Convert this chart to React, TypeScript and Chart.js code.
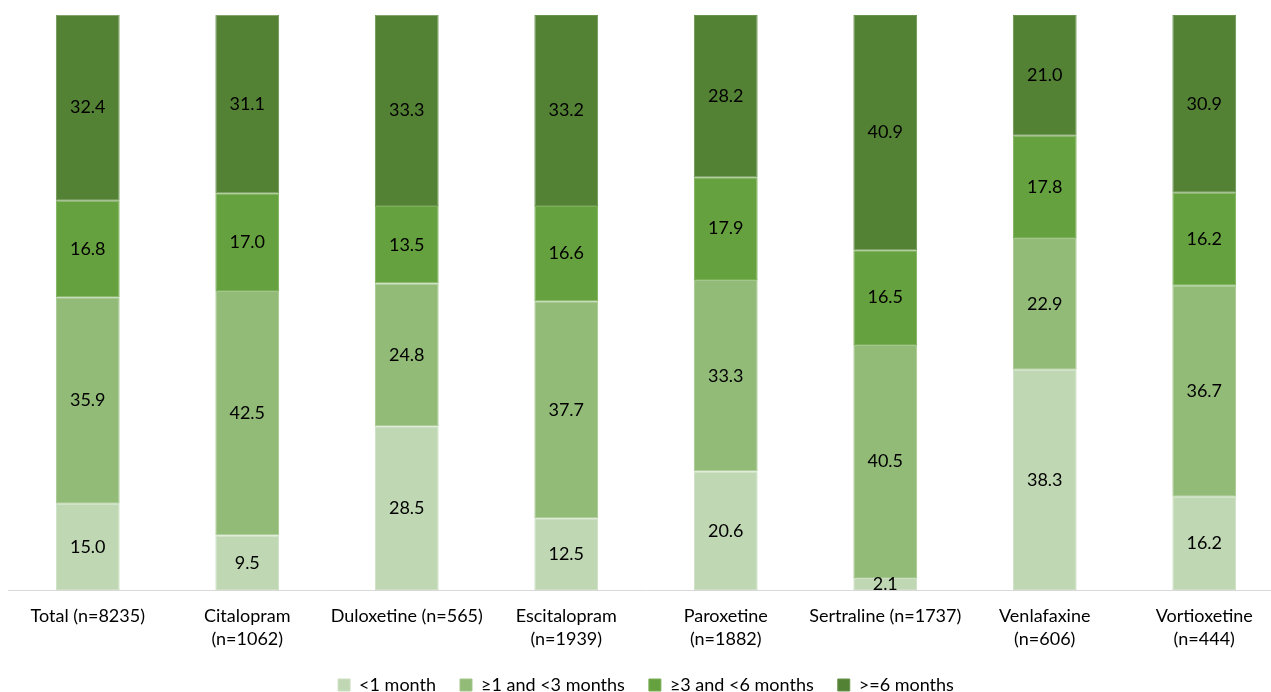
import React, { useEffect, useRef } from "react";
import { Chart, registerables } from "chart.js";

Chart.register(...registerables);

// Drug groups shown on the x axis (multi-line labels where they wrap)
const categories: (string | string[])[] = [
  "Total (n=8235)",
  ["Citalopram", "(n=1062)"],
  "Duloxetine (n=565)",
  ["Escitalopram", "(n=1939)"],
  ["Paroxetine", "(n=1882)"],
  "Sertraline (n=1737)",
  ["Venlafaxine", "(n=606)"],
  ["Vortioxetine", "(n=444)"],
];

// Share of patients (%) by treatment duration
const lessThan1Month = [15.0, 9.5, 28.5, 12.5, 20.6, 2.1, 38.3, 16.2];
const from1To3Months = [35.9, 42.5, 24.8, 37.7, 33.3, 40.5, 22.9, 36.7];
const from3To6Months = [16.8, 17.0, 13.5, 16.6, 17.9, 16.5, 17.8, 16.2];
const sixMonthsOrMore = [32.4, 31.1, 33.3, 33.2, 28.2, 40.9, 21.0, 30.9];

const seriesNames = ["<1 month", "\u22651 and <3 months", "\u22653 and <6 months", ">=6 months"];
const seriesColors = ["#BFD7B3", "#92BB78", "#66A13F", "#548235"];
// Slightly lighter edge for each segment
const edgeColors = ["#CCDFC2", "#A3C68C", "#7AAE57", "#6A934E"];

const FONT = "Lato, 'Open Sans', sans-serif";

// Writes each segment's value in the middle of its bar piece
const segmentLabels = {
  id: "segmentLabels",
  afterDatasetsDraw(chart: any) {
    const ctx = chart.ctx;
    ctx.save();
    ctx.font = `18px ${FONT}`;
    ctx.fillStyle = "#000";
    ctx.textAlign = "center";
    ctx.textBaseline = "middle";
    chart.data.datasets.forEach((ds: any, di: number) => {
      const meta = chart.getDatasetMeta(di);
      meta.data.forEach((el: any, i: number) => {
        const { x, y, base } = el.getProps(["x", "y", "base"], true);
        const v = ds.data[i] as number;
        ctx.fillText(v.toFixed(1), x, (y + base) / 2);
      });
    });
    ctx.restore();
  },
};

export default function App() {
  const ref = useRef<HTMLCanvasElement | null>(null);

  useEffect(() => {
    if (!ref.current) return;
    const values = [lessThan1Month, from1To3Months, from3To6Months, sixMonthsOrMore];
    const chart = new Chart(ref.current, {
      type: "bar",
      data: {
        labels: categories,
        datasets: values.map((data, i) => ({
          label: seriesNames[i],
          data,
          backgroundColor: seriesColors[i],
          borderColor: edgeColors[i],
          borderWidth: 1,
          borderSkipped: false,
          barPercentage: 0.4,
          categoryPercentage: 1,
        })),
      },
      options: {
        responsive: false,
        animation: false,
        layout: { padding: { left: 8, right: 8, top: 15, bottom: 0 } },
        plugins: {
          tooltip: { enabled: false },
          legend: {
            position: "bottom",
            labels: {
              boxWidth: 12,
              boxHeight: 12,
              padding: 24,
              color: "#000",
              font: { family: FONT, size: 18 },
            },
          },
        },
        scales: {
          x: {
            stacked: true,
            grid: { display: false, drawTicks: false },
            border: { display: true, color: "#D9D9D9", width: 1 },
            ticks: {
              color: "#000",
              padding: 15,
              font: { family: FONT, size: 18, lineHeight: 1.28 },
              maxRotation: 0,
              autoSkip: false,
            },
            afterFit: (scale: any) => {
              scale.height = 62;
            },
          },
          y: {
            stacked: true,
            display: false,
            min: 0,
            max: 100,
          },
        },
      },
      plugins: [segmentLabels],
    });
    return () => chart.destroy();
  }, []);

  return (
    <div
      style={{
        position: "absolute",
        left: 0,
        top: 0,
        width: 1271,
        height: 692,
        overflow: "hidden",
        background: "#fff",
      }}
    >
      <canvas ref={ref} width={1292} height={704} style={{ display: "block" }} />
    </div>
  );
}
